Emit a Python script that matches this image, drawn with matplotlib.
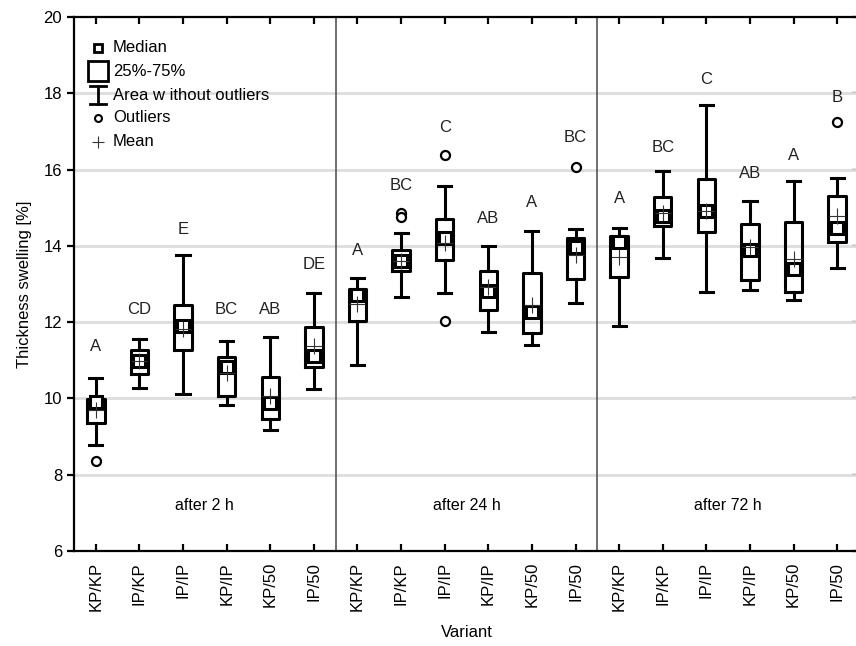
import matplotlib
matplotlib.use("Agg")
import matplotlib.pyplot as plt
import numpy as np

plt.rcParams['font.family'] = ['Liberation Sans', 'DejaVu Sans']

variants = ["KP/KP", "IP/KP", "IP/IP", "KP/IP", "KP/50", "IP/50"]
groups = ["after 2 h", "after 24 h", "after 72 h"]

# per box (3 groups x 6 variants): whisker low, q1, median, q3, whisker high, mean
whislo = [8.77, 10.28, 10.11, 9.84, 9.17, 10.25,
          10.88, 12.65, 12.77, 11.74, 11.40, 12.51,
          11.91, 13.68, 12.78, 12.83, 12.57, 13.43]
q1 = [9.35, 10.65, 11.26, 10.06, 9.46, 10.83,
      12.04, 13.33, 13.63, 12.33, 11.71, 13.12,
      13.18, 14.52, 14.37, 13.11, 12.79, 14.10]
median = [9.90, 10.97, 11.91, 10.83, 9.89, 11.12,
          12.70, 13.61, 14.20, 12.81, 12.26, 13.96,
          14.09, 14.77, 14.92, 13.90, 13.40, 14.46]
q3 = [9.98, 11.27, 12.45, 11.08, 10.57, 11.87,
      12.87, 13.88, 14.71, 13.35, 13.28, 14.21,
      14.26, 15.28, 15.76, 14.56, 14.62, 15.30]
whishi = [10.54, 11.55, 13.75, 11.51, 11.60, 12.77,
          13.17, 14.35, 15.58, 14.00, 14.38, 14.45,
          14.48, 15.97, 17.70, 15.17, 15.70, 15.77]
mean = [9.70, 10.97, 11.83, 10.67, 10.06, 11.37,
        12.48, 13.61, 14.07, 12.92, 12.46, 13.76,
        13.70, 14.87, 14.92, 13.96, 13.66, 14.77]
outliers = [[8.35], [], [], [], [], [],
            [], [14.85, 14.76], [16.38, 12.04], [], [], [16.08],
            [], [], [], [], [], [17.24]]
letters = ["A", "CD", "E", "BC", "AB", "DE",
           "A", "BC", "C", "AB", "A", "BC",
           "A", "BC", "C", "AB", "A", "B"]
letter_y = [11.35, 12.32, 14.44, 12.32, 12.32, 13.50,
            13.88, 15.59, 17.10, 14.73, 15.13, 16.84,
            15.24, 16.59, 18.35, 15.91, 16.37, 17.90]
y_ticks = [6, 8, 10, 12, 14, 16, 18, 20]
grid_vals = [8, 10, 12, 14, 16, 18]

fig = plt.figure(figsize=(8.56, 6.46), dpi=100)
AX_L, AX_R, AX_T, AX_B = 74, 859, 17, 551
ax = fig.add_axes([AX_L/856, 1 - AX_B/646, (AX_R - AX_L)/856, (AX_B - AX_T)/646])

n = len(median)
pos = np.arange(n)
stats = []
for i in range(n):
    stats.append(dict(med=median[i], q1=q1[i], q3=q3[i], whislo=whislo[i],
                      whishi=whishi[i], fliers=outliers[i], mean=mean[i]))

lw = 2.2
ax.bxp(stats, positions=pos, widths=0.4, capwidths=0.3, showmeans=True,
       showfliers=True, patch_artist=False,
       boxprops=dict(color='black', linewidth=lw),
       whiskerprops=dict(color='black', linewidth=lw),
       capprops=dict(color='black', linewidth=lw),
       medianprops=dict(linewidth=0, alpha=0),
       meanprops=dict(marker='+', markersize=11, markeredgecolor='#333333',
                      markeredgewidth=0.8, zorder=6),
       flierprops=dict(marker='o', markersize=6.5, markerfacecolor='white',
                       markeredgecolor='black', markeredgewidth=1.6),
       zorder=4)
ax.plot(pos, median, linestyle='none', marker='s', markersize=8.5,
        markerfacecolor='white', markeredgecolor='black', markeredgewidth=2.2,
        zorder=5)

for i in range(n):
    ax.text(pos[i], letter_y[i], letters[i], ha='center', va='center',
            fontsize=12, color='#222222')

for g, name in enumerate(groups):
    ax.text(g * 6 + 2.5, 7.2, name, ha='center', va='center', fontsize=11.5)
for g in range(1, len(groups)):
    ax.axvline(g * 6 - 0.5, color='#555555', linewidth=1.2, zorder=2)

for v in grid_vals:
    ax.axhline(v, color='#dddddd', linewidth=2, zorder=1)

ax.set_xlim(-0.5, n - 0.5)
ax.set_ylim(6, 20)
ax.set_yticks(y_ticks)
ax.set_yticklabels([str(t) for t in y_ticks], fontsize=12)
ax.set_xticks(pos)
ax.set_xticklabels(variants * 3, rotation=90, fontsize=12)
ax.tick_params(axis='x', direction='in', top=True, bottom=True, width=1.6, length=5, pad=8)
ax.tick_params(axis='y', direction='out', width=1.6, length=5)
for s in ['left', 'bottom', 'top', 'right']:
    ax.spines[s].set_linewidth(1.6)

sec = ax.secondary_yaxis('right')
sec.set_yticks(y_ticks)
sec.tick_params(direction='in', width=1.6, length=5, labelright=False)
sec.spines['right'].set_linewidth(1.6)

ax.set_xlabel("Variant", fontsize=12, labelpad=10)
ax.set_ylabel("Thickness swelling [%]", fontsize=12, labelpad=8)

# legend drawn manually in axes coordinates
W, H = AX_R - AX_L, AX_B - AX_T
def px2ax(px, py):
    return (px - AX_L) / W, (AX_B - py) / H

tr = ax.transAxes
items = ["Median", "25%-75%", "Area w ithout outliers", "Outliers", "Mean"]
rows = [48, 71, 95, 118, 142]
mx = px2ax(98, 0)[0]
tx = px2ax(113, 0)[0]
for label, r in zip(items, rows):
    ax.text(tx, px2ax(0, r)[1], label, transform=tr, ha='left', va='center', fontsize=12)
ax.plot([mx], [px2ax(0, 48)[1]], transform=tr, marker='s', markersize=6,
        markerfacecolor='white', markeredgecolor='black', markeredgewidth=2)
ax.plot([mx], [px2ax(0, 71)[1]], transform=tr, marker='s', markersize=15,
        markerfacecolor='white', markeredgecolor='black', markeredgewidth=2)
y0, y1 = px2ax(0, 104)[1], px2ax(0, 86)[1]
hw = 8 / W
ax.plot([mx, mx], [y0, y1], transform=tr, color='black', linewidth=2)
ax.plot([mx - hw, mx + hw], [y0, y0], transform=tr, color='black', linewidth=2)
ax.plot([mx - hw, mx + hw], [y1, y1], transform=tr, color='black', linewidth=2)
ax.plot([mx], [px2ax(0, 118)[1]], transform=tr, marker='o', markersize=5,
        markerfacecolor='white', markeredgecolor='black', markeredgewidth=1.5)
ax.plot([mx], [px2ax(0, 142)[1]], transform=tr, marker='+', markersize=9,
        markeredgecolor='#333333', markeredgewidth=0.8)

fig.savefig("out.png", dpi=100)
